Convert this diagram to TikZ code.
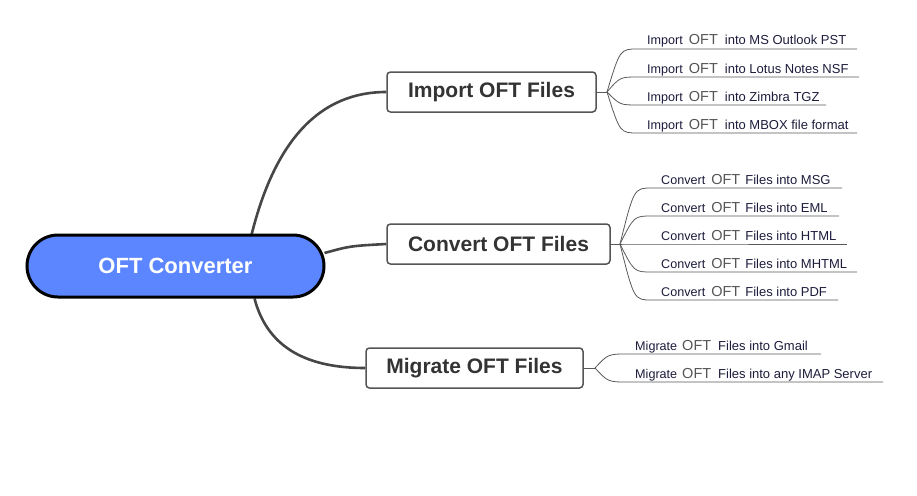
\documentclass[tikz,border=0pt]{standalone}
\usepackage{fontspec}
\setmainfont{Liberation Sans}
\usetikzlibrary{backgrounds,calc}
\definecolor{pillblue}{RGB}{92,134,255}
\definecolor{boxtext}{RGB}{51,51,51}
\definecolor{boxline}{RGB}{85,85,85}
\definecolor{linkgray}{RGB}{70,70,70}
\definecolor{leaftext}{RGB}{28,28,60}
\definecolor{oftgray}{RGB}{85,85,85}
\newcommand{\oft}{{\fontsize{14.5pt}{16pt}\selectfont\color{oftgray}OFT}}
\newcommand{\rest}[1]{{\fontsize{13pt}{15pt}\selectfont #1}}
\tikzset{
  pill/.style={draw=black, line width=3pt, fill=pillblue, rounded corners=31pt,
    minimum width=297pt, minimum height=62pt, text=white,
    font=\fontsize{22pt}{26pt}\selectfont\bfseries},
  topic/.style={draw=boxline, line width=1.5pt, fill=white, rounded corners=3.5pt,
    minimum height=40pt, inner xsep=0pt, text=boxtext,
    font=\fontsize{21pt}{25pt}\selectfont\bfseries},
  mainlink/.style={draw=linkgray, line width=2.6pt},
  leaflink/.style={draw=linkgray!90, line width=0.8pt},
  leaf/.style={anchor=base west, inner sep=0pt, text=leaftext,
    font=\fontsize{12.6pt}{14pt}\selectfont},
}
\begin{document}
\begin{tikzpicture}[x=1pt,y=-1pt]
\useasboundingbox (0,0) rectangle (917,495);

% central and topics
\node[pill] (c) at (175.5,266) {OFT Converter};
\node[topic, minimum width=209pt] (imp) at (491.5,92) {Import OFT Files};
\node[topic, minimum width=223pt] (conv) at (498.5,244) {Convert OFT Files};
\node[topic, minimum width=217pt] (mig) at (474.5,368) {Migrate OFT Files};

% branch points, control columns, horizontal starts
\coordinate (bi) at (607,92);  \coordinate (ki) at (620,92);  \coordinate (si) at (638,92);
\coordinate (bc) at (620,244); \coordinate (kc) at (634,244); \coordinate (sc) at (652,244);
\coordinate (bm) at (595,368); \coordinate (km) at (608,368); \coordinate (sm) at (628,368);

% leaf end coordinates
\coordinate (i1) at (857,49);
\coordinate (i2) at (859,77);
\coordinate (i3) at (826,105);
\coordinate (i4) at (857,133);
\coordinate (c1) at (842,188);
\coordinate (c2) at (839,216);
\coordinate (c3) at (847,244);
\coordinate (c4) at (857,272);
\coordinate (c5) at (838,300);
\coordinate (m1) at (821,354);
\coordinate (m2) at (883,382);

% leaf texts
\node[leaf] (ti1) at (647,45) {Import\hspace{6pt}\oft\hspace{7pt}\rest{into MS Outlook PST}};
\node[leaf] (ti2) at (647,73) {Import\hspace{6pt}\oft\hspace{7pt}\rest{into Lotus Notes NSF}};
\node[leaf] (ti3) at (647,101) {Import\hspace{6pt}\oft\hspace{7pt}\rest{into Zimbra TGZ}};
\node[leaf] (ti4) at (647,129) {Import\hspace{6pt}\oft\hspace{7pt}\rest{into MBOX file format}};
\node[leaf] (tc1) at (661,184) {Convert\hspace{6pt}\oft\hspace{5pt}\rest{Files into MSG}};
\node[leaf] (tc2) at (661,212) {Convert\hspace{6pt}\oft\hspace{5pt}\rest{Files into EML}};
\node[leaf] (tc3) at (661,240) {Convert\hspace{6pt}\oft\hspace{5pt}\rest{Files into HTML}};
\node[leaf] (tc4) at (661,268) {Convert\hspace{6pt}\oft\hspace{5pt}\rest{Files into MHTML}};
\node[leaf] (tc5) at (661,296) {Convert\hspace{6pt}\oft\hspace{5pt}\rest{Files into PDF}};
\node[leaf] (tm1) at (635,350) {Migrate\hspace{5pt}\oft\hspace{7pt}\rest{Files into Gmail}};
\node[leaf] (tm2) at (635,378) {Migrate\hspace{5pt}\oft\hspace{7pt}\rest{Files into any IMAP Server}};

\begin{scope}[on background layer]
  % main connectors
  \draw[mainlink] (c.center) ++(76,-31) .. controls (275,140) and (320,92) .. (imp.west);
  \draw[mainlink] (c.east) ++(-1,-13) .. controls (350,246) .. (conv.west);
  \draw[mainlink] (c.south) ++(79,0) .. controls (268,350) and (310,368) .. (mig.west);

  % short stubs from topic to branch point
  \draw[leaflink] (imp.east) -- (bi);
  \draw[leaflink] (conv.east) -- (bc);
  \draw[leaflink] (mig.east) -- (bm);

  % leaves
  \foreach \e in {i1,i2,i3,i4}{
    \draw[leaflink] (bi) .. controls (\e -| ki) .. (\e -| si) -- (\e);
  }
  \foreach \e in {c1,c2,c3,c4,c5}{
    \draw[leaflink] (bc) .. controls (\e -| kc) .. (\e -| sc) -- (\e);
  }
  \foreach \e in {m1,m2}{
    \draw[leaflink] (bm) .. controls (\e -| km) .. (\e -| sm) -- (\e);
  }
\end{scope}
\end{tikzpicture}
\end{document}
